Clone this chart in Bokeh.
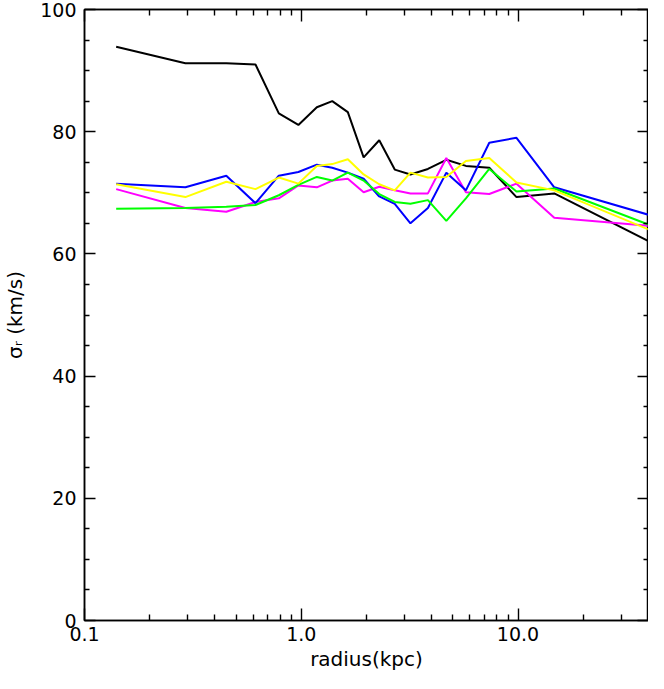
from bokeh.plotting import figure
from bokeh.models import FixedTicker, LinearAxis, LogAxis, CustomJSTickFormatter
from bokeh.embed import file_html
from bokeh.resources import INLINE

radius = [0.140, 0.292, 0.451, 0.615, 0.788, 0.97, 1.18, 1.39, 1.64, 1.94,
          2.29, 2.70, 3.19, 3.84, 4.67, 5.75, 7.37, 9.84, 14.7, 40.0]
sigma_black = [93.9, 91.2, 91.2, 91.0, 83.0, 81.1, 84.0, 85.0, 83.2, 75.8,
               78.6, 73.8, 73.0, 73.9, 75.4, 74.4, 74.1, 69.3, 69.9, 62.1]
sigma_blue = [71.5, 70.9, 72.8, 68.3, 72.8, 73.4, 74.6, 74.1, 73.3, 72.3,
              69.4, 68.2, 65.0, 67.5, 73.3, 70.4, 78.2, 79.0, 70.9, 66.4]
sigma_magenta = [70.6, 67.5, 66.9, 68.5, 69.1, 71.2, 70.9, 72.0, 72.3, 70.1,
                 71.0, 70.4, 69.9, 69.9, 75.7, 70.1, 69.8, 71.5, 65.9, 64.6]
sigma_green = [67.4, 67.5, 67.7, 68.0, 69.6, 71.3, 72.6, 72.0, 73.3, 72.0,
               69.8, 68.5, 68.2, 68.8, 65.4, 69.1, 73.9, 70.2, 70.7, 64.8]
sigma_yellow = [71.4, 69.3, 71.8, 70.6, 72.5, 71.5, 74.4, 74.7, 75.5, 73.0,
                71.4, 70.4, 73.3, 72.5, 72.6, 75.2, 75.7, 71.7, 70.4, 64.0]

x_major = [0.1, 1.0, 10.0]
x_labels = {0.1: "0.1", 1.0: "1.0", 10.0: "10.0"}
x_minor = [0.2, 0.3, 0.4, 0.5, 0.6, 0.7, 0.8, 0.9,
           2, 3, 4, 5, 6, 7, 8, 9, 20, 30]
y_major = [0, 20, 40, 60, 80, 100]
y_minor = [5, 10, 15, 25, 30, 35, 45, 50, 55, 65, 70, 75, 85, 90, 95]

p = figure(width=648, height=673, x_axis_type="log",
           x_range=(0.1, 40), y_range=(0, 100),
           output_backend="svg", toolbar_location=None,
           min_border_left=78, min_border_right=0, min_border_top=9,
           min_border_bottom=0,
           background_fill_color="white", border_fill_color="white")
p.grid.visible = False
p.outline_line_color = "black"
p.outline_line_width = 1.5

series = [(sigma_black, "black"), (sigma_magenta, "#ff00ff"),
          (sigma_blue, "#0000ff"), (sigma_green, "#00ff00"),
          (sigma_yellow, "#ffff00")]
for ys, c in series:
    p.line(radius, ys, line_color=c, line_width=2)

xt = FixedTicker(ticks=x_major, minor_ticks=x_minor)
yt = FixedTicker(ticks=y_major, minor_ticks=y_minor)

def style(ax, major=11, minor=5):
    ax.axis_line_color = "black"
    ax.axis_line_width = 1.5
    ax.major_tick_line_color = "black"
    ax.minor_tick_line_color = "black"
    ax.major_tick_line_width = 1.4
    ax.minor_tick_line_width = 1.4
    ax.major_tick_in = major
    ax.major_tick_out = 0
    ax.minor_tick_in = minor
    ax.minor_tick_out = 0
    ax.major_label_text_font = "DejaVu Sans"
    ax.major_label_text_font_size = "19px"
    ax.major_label_text_color = "black"
    ax.axis_label_text_font = "DejaVu Sans"
    ax.axis_label_text_font_size = "20px"
    ax.axis_label_text_font_style = "normal"
    ax.axis_label_text_color = "black"

xa = p.xaxis[0]
xa.ticker = xt
xa.major_label_overrides = x_labels
xa.axis_label = "radius(kpc)"
xa.major_label_standoff = 6
xa.axis_label_standoff = 3
style(xa, 12, 6)

ya = p.yaxis[0]
ya.ticker = yt
ya.axis_label = "σᵣ (km/s)"
ya.major_label_standoff = 8
ya.axis_label_standoff = 10
style(ya)

top = LogAxis(ticker=FixedTicker(ticks=x_major, minor_ticks=x_minor),
              formatter=CustomJSTickFormatter(code="return '';"))
style(top, 12, 6)
top.major_label_standoff = 0
top.major_label_text_font_size = "1px"
p.add_layout(top, "above")

right = LinearAxis(ticker=FixedTicker(ticks=y_major, minor_ticks=y_minor),
                   formatter=CustomJSTickFormatter(code="return '';"))
style(right)
right.major_label_standoff = 0
right.major_label_text_font_size = "1px"
p.add_layout(right, "right")

open("out.html", "w").write(file_html(p, INLINE))
